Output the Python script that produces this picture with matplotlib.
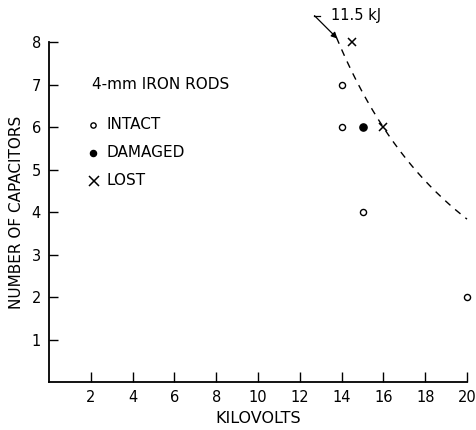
import matplotlib
matplotlib.use("Agg")
import matplotlib.pyplot as plt
import numpy as np

# Test shots, 4-mm iron rods: bank voltage (kV) vs number of capacitors
intact_kv = [14, 14, 15, 20]
intact_n = [7, 6, 4, 2]
damaged_kv = [15]
damaged_n = [6]
lost_kv = [14.5, 16]
lost_n = [8, 6]

x_ticks = [2, 4, 6, 8, 10, 12, 14, 16, 18, 20]
y_ticks = [1, 2, 3, 4, 5, 6, 7, 8]

# Constant stored-energy line: E = N * C * V^2 / 2
energy_kj = 11.5
cap_uf = 15.0

plt.rcParams["font.family"] = ["DejaVu Sans"]

fig = plt.figure(figsize=(4.77, 4.30), dpi=100)
ax = fig.add_axes([0.103, 0.1116, 0.876, 0.7907])

kv = np.linspace(13.75, 20, 200)
n_curve = 2 * energy_kj * 1e3 / (cap_uf * 1e-6 * (kv * 1e3) ** 2)
ax.plot(kv, n_curve, color="black", lw=1.0, linestyle=(0, (5, 4.5)), clip_on=False)

ax.plot(intact_kv, intact_n, "o", ms=4.4, mfc="white", mec="black", mew=1.0, clip_on=False)
ax.plot(damaged_kv, damaged_n, "o", ms=5.2, mfc="black", mec="black", clip_on=False)
ax.plot(lost_kv, lost_n, "x", ms=5.5, color="black", mew=1.1, clip_on=False)

# In-plot key
key_fs = 11
ax.text(2.05, 7.0, "4-mm IRON RODS", fontsize=key_fs, va="center")
ax.plot([2.1], [6.05], "o", ms=3.8, mfc="white", mec="black", mew=1.0)
ax.text(2.75, 6.05, "INTACT", fontsize=key_fs, va="center")
ax.plot([2.1], [5.4], "o", ms=4.4, mfc="black", mec="black")
ax.text(2.75, 5.4, "DAMAGED", fontsize=key_fs, va="center")
ax.plot([2.15], [4.74], "x", ms=6.5, color="black", mew=1.1)
ax.text(2.75, 4.74, "LOST", fontsize=key_fs, va="center")

# Leader for the energy label
ax.annotate("", xy=(13.8, 8.08), xytext=(12.7, 8.62),
            arrowprops=dict(arrowstyle="-|>", color="black", lw=0.9,
                            mutation_scale=9, shrinkA=0, shrinkB=0),
            annotation_clip=False)
ax.plot([12.7, 12.95], [8.62, 8.62], color="black", lw=0.9, clip_on=False)
ax.text(13.5, 8.63, "11.5 kJ", fontsize=10.5, va="center", ha="left")

ax.set_xlim(0, 20)
ax.set_ylim(0, 8)
ax.set_xticks(x_ticks)
ax.set_yticks(y_ticks)
ax.set_xticklabels([str(t) for t in x_ticks], fontsize=10.5)
ax.set_yticklabels([str(t) for t in y_ticks], fontsize=10.5)
ax.tick_params(axis="x", direction="in", length=7, width=1.0, pad=6)
ax.tick_params(axis="y", direction="in", length=6.5, width=1.0, pad=6)

for side in ("top", "right"):
    ax.spines[side].set_visible(False)
for side in ("left", "bottom"):
    ax.spines[side].set_linewidth(1.3)

ax.set_xlabel("KILOVOLTS", fontsize=11.5, labelpad=4)
ax.set_ylabel("NUMBER OF CAPACITORS", fontsize=11, labelpad=5)

fig.savefig("out.png", dpi=100, facecolor="white")
